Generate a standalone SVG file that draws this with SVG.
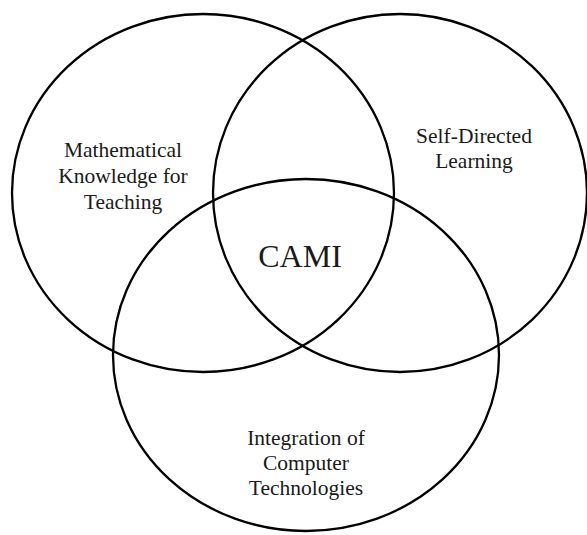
<svg xmlns="http://www.w3.org/2000/svg" width="587" height="535" viewBox="0 0 587 535">
<style>
.c{fill:none;stroke:#000;stroke-width:2.3}
.t{font-family:"Liberation Serif","Times New Roman",serif;font-size:21.5px;fill:#1a1a1a;text-anchor:middle}
.big{font-size:32px}
</style>
<rect width="587" height="535" fill="#fff"/>
<g id="mkt">
<ellipse class="c" cx="203" cy="193" rx="191" ry="179"/>
<text class="t" x="123" y="157">Mathematical</text>
<text class="t" x="123" y="183">Knowledge for</text>
<text class="t" x="123" y="209">Teaching</text>
</g>
<g id="sdl">
<ellipse class="c" cx="400" cy="193" rx="187" ry="179"/>
<text class="t" x="474" y="143">Self-Directed</text>
<text class="t" x="474" y="168">Learning</text>
</g>
<g id="ict">
<ellipse class="c" cx="306" cy="355" rx="193" ry="176"/>
<text class="t" x="306" y="445">Integration of</text>
<text class="t" x="306" y="470">Computer</text>
<text class="t" x="306" y="495">Technologies</text>
</g>
<g id="cami">
<text class="t big" x="300" y="267">CAMI</text>
</g>
<g id="connectors"/>
</svg>
